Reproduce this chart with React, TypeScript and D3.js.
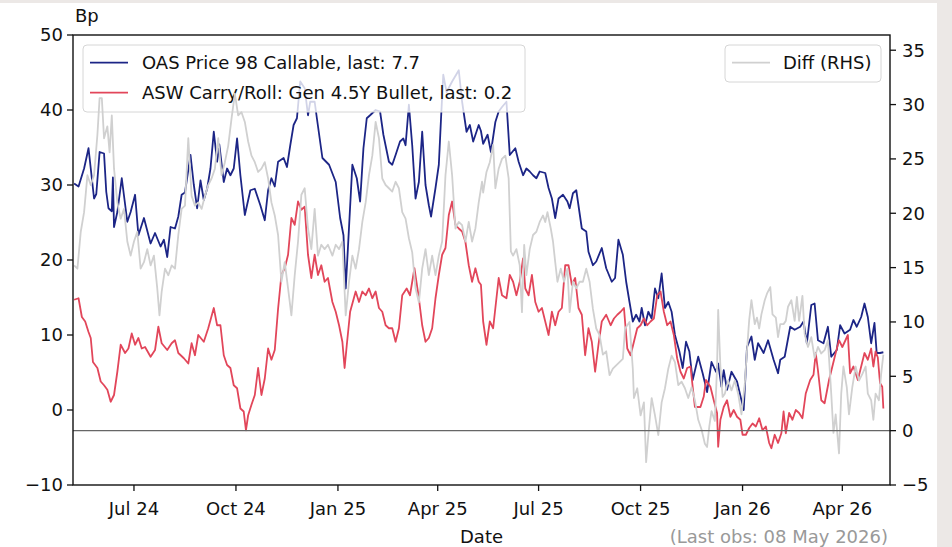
import React from "react";
import * as d3 from "d3";

// ---------- DATA ----------
const OAS_SERIES: [string, number][] = [
  ["2024-05-08",30.2],["2024-05-12",29.8],["2024-05-17",32.2],["2024-05-21",34.9],["2024-05-26",28.2],["2024-05-28",28.8],
  ["2024-05-31",34.4],["2024-06-04",34.2],["2024-06-06",29.1],["2024-06-08",26.9],["2024-06-11",26.5],["2024-06-12",31.0],
  ["2024-06-13",24.4],["2024-06-16",26.4],["2024-06-20",30.9],["2024-06-25",25.1],["2024-06-28",26.4],["2024-07-02",28.7],
  ["2024-07-05",23.3],["2024-07-10",25.6],["2024-07-16",22.2],["2024-07-20",23.6],["2024-07-25",21.8],["2024-07-28",22.7],
  ["2024-07-31",20.4],["2024-08-03",24.4],["2024-08-07",24.2],["2024-08-10",25.8],["2024-08-13",28.7],["2024-08-16",29.0],
  ["2024-08-21",34.0],["2024-08-24",30.0],["2024-08-27",26.9],["2024-08-30",30.6],["2024-09-02",28.0],["2024-09-05",29.5],
  ["2024-09-08",32.2],["2024-09-11",37.1],["2024-09-14",33.1],["2024-09-16",35.4],["2024-09-20",30.4],["2024-09-23",32.2],
  ["2024-09-26",31.3],["2024-09-29",32.2],["2024-10-02",36.2],["2024-10-05",31.3],["2024-10-09",26.0],["2024-10-14",29.3],
  ["2024-10-18",29.5],["2024-10-23",27.3],["2024-10-27",25.3],["2024-10-30",29.3],["2024-11-02",30.9],["2024-11-05",29.8],
  ["2024-11-08",33.1],["2024-11-13",33.6],["2024-11-16",32.4],["2024-11-19",35.3],["2024-11-22",38.0],["2024-11-25",38.9],
  ["2024-11-28",43.8],["2024-12-02",42.9],["2024-12-05",39.3],["2024-12-07",41.1],["2024-12-11",41.1],["2024-12-13",38.9],
  ["2024-12-18",33.6],["2024-12-24",32.7],["2024-12-30",30.4],["2025-01-03",25.6],["2025-01-06",23.3],["2025-01-08",16.2],
  ["2025-01-10",21.6],["2025-01-14",32.7],["2025-01-18",30.9],["2025-01-21",27.8],["2025-01-24",34.9],["2025-01-27",38.9],
  ["2025-01-30",39.3],["2025-02-04",40.0],["2025-02-08",39.8],["2025-02-11",36.7],["2025-02-16",33.1],["2025-02-19",32.7],
  ["2025-02-22",34.0],["2025-02-26",35.8],["2025-03-01",36.2],["2025-03-03",35.3],["2025-03-06",40.7],["2025-03-09",35.3],
  ["2025-03-12",28.2],["2025-03-15",30.4],["2025-03-18",37.1],["2025-03-21",30.0],["2025-03-24",27.3],["2025-03-26",25.8],
  ["2025-03-30",29.6],["2025-04-02",32.7],["2025-04-04",38.9],["2025-04-06",44.7],["2025-04-09",42.4],["2025-04-14",43.8],
  ["2025-04-20",45.3],["2025-04-23",41.1],["2025-04-27",37.1],["2025-04-30",38.0],["2025-05-03",35.8],["2025-05-08",38.0],
  ["2025-05-10",37.2],["2025-05-12",35.5],["2025-05-16",36.7],["2025-05-19",34.4],["2025-05-23",38.4],["2025-05-26",39.8],
  ["2025-05-29",40.4],["2025-06-02",41.1],["2025-06-05",34.0],["2025-06-10",34.9],["2025-06-13",33.1],["2025-06-17",31.3],
  ["2025-06-20",32.2],["2025-06-23",31.8],["2025-06-26",31.3],["2025-06-29",30.9],["2025-07-02",31.8],["2025-07-07",31.6],
  ["2025-07-10",29.6],["2025-07-13",28.2],["2025-07-16",25.6],["2025-07-19",28.2],["2025-07-23",28.7],["2025-07-27",27.8],
  ["2025-07-29",26.9],["2025-08-01",28.9],["2025-08-04",29.3],["2025-08-09",24.2],["2025-08-13",23.8],["2025-08-15",21.1],
  ["2025-08-19",19.3],["2025-08-22",19.8],["2025-08-27",21.6],["2025-08-31",18.9],["2025-09-05",17.1],["2025-09-08",17.6],
  ["2025-09-11",22.7],["2025-09-15",20.7],["2025-09-18",17.1],["2025-09-21",14.4],["2025-09-24",11.8],["2025-09-27",12.7],
  ["2025-09-30",11.8],["2025-10-02",13.6],["2025-10-05",11.3],["2025-10-08",13.1],["2025-10-11",12.2],["2025-10-14",16.2],
  ["2025-10-17",14.9],["2025-10-20",18.2],["2025-10-23",13.6],["2025-10-26",14.4],["2025-10-29",13.1],["2025-11-01",10.0],
  ["2025-11-05",7.8],["2025-11-08",5.6],["2025-11-11",9.1],["2025-11-14",7.8],["2025-11-17",4.0],["2025-11-22",7.1],
  ["2025-11-26",4.9],["2025-11-30",2.4],["2025-12-04",6.4],["2025-12-08",5.1],["2025-12-10",6.2],["2025-12-13",3.1],
  ["2025-12-15",5.3],["2025-12-18",2.7],["2025-12-22",5.1],["2025-12-27",3.8],["2025-12-31",1.3],["2026-01-02",0.0],
  ["2026-01-05",8.4],["2026-01-09",9.8],["2026-01-12",6.7],["2026-01-15",8.9],["2026-01-20",7.6],["2026-01-24",9.3],
  ["2026-01-29",6.7],["2026-02-02",4.9],["2026-02-04",6.7],["2026-02-08",7.1],["2026-02-13",11.1],["2026-02-17",10.7],
  ["2026-02-22",11.1],["2026-02-25",11.8],["2026-02-28",8.9],["2026-03-04",14.0],["2026-03-07",14.2],["2026-03-10",9.3],
  ["2026-03-15",8.9],["2026-03-19",11.1],["2026-03-22",7.1],["2026-03-27",8.0],["2026-03-30",11.3],["2026-04-03",10.2],
  ["2026-04-08",10.7],["2026-04-11",12.0],["2026-04-14",11.1],["2026-04-18",12.4],["2026-04-21",14.2],["2026-04-24",12.4],
  ["2026-04-27",8.9],["2026-04-30",11.6],["2026-05-02",7.6],["2026-05-05",7.6],["2026-05-08",7.7],
];

const ASW_SERIES: [string, number][] = [
  ["2024-05-08",14.7],["2024-05-12",14.9],["2024-05-15",12.4],["2024-05-18",11.8],["2024-05-21",10.4],["2024-05-23",9.6],
  ["2024-05-25",6.4],["2024-05-29",5.6],["2024-06-01",3.8],["2024-06-04",3.3],["2024-06-07",2.7],["2024-06-10",1.1],
  ["2024-06-13",2.0],["2024-06-16",5.1],["2024-06-19",8.7],["2024-06-23",7.6],["2024-06-26",8.2],["2024-06-29",10.2],
  ["2024-07-02",8.7],["2024-07-05",9.6],["2024-07-08",8.2],["2024-07-11",8.4],["2024-07-16",7.1],["2024-07-20",8.0],
  ["2024-07-23",11.1],["2024-07-26",8.9],["2024-07-31",8.0],["2024-08-04",8.9],["2024-08-07",9.3],["2024-08-10",7.6],
  ["2024-08-15",6.9],["2024-08-19",6.2],["2024-08-22",8.9],["2024-08-25",7.3],["2024-08-28",10.0],["2024-09-02",9.1],
  ["2024-09-06",10.9],["2024-09-11",13.6],["2024-09-14",11.3],["2024-09-17",11.3],["2024-09-20",7.3],["2024-09-23",6.0],
  ["2024-09-26",5.6],["2024-09-29",3.3],["2024-10-02",2.9],["2024-10-05",0.2],["2024-10-08",-0.2],["2024-10-10",-2.7],
  ["2024-10-12",-0.7],["2024-10-15",0.7],["2024-10-18",2.0],["2024-10-21",5.6],["2024-10-24",2.0],["2024-10-27",4.2],
  ["2024-10-30",8.2],["2024-11-02",6.7],["2024-11-05",8.0],["2024-11-08",13.5],["2024-11-11",18.0],["2024-11-14",18.9],
  ["2024-11-17",20.7],["2024-11-20",25.6],["2024-11-23",24.7],["2024-11-26",27.8],["2024-11-29",26.7],["2024-12-02",27.1],
  ["2024-12-05",20.7],["2024-12-08",17.6],["2024-12-11",20.7],["2024-12-14",18.0],["2024-12-17",19.3],["2024-12-20",17.1],
  ["2024-12-23",17.6],["2024-12-27",14.4],["2024-12-30",13.1],["2025-01-02",11.3],["2025-01-05",9.1],["2025-01-07",5.6],
  ["2025-01-09",8.7],["2025-01-12",13.1],["2025-01-17",15.8],["2025-01-20",14.4],["2025-01-23",15.8],["2025-01-26",15.3],
  ["2025-01-29",16.2],["2025-02-01",14.9],["2025-02-04",15.8],["2025-02-07",13.6],["2025-02-10",13.1],["2025-02-13",11.3],
  ["2025-02-16",10.9],["2025-02-19",10.9],["2025-02-22",9.1],["2025-02-25",10.9],["2025-02-28",15.3],["2025-03-04",16.2],
  ["2025-03-07",15.3],["2025-03-11",18.9],["2025-03-15",14.9],["2025-03-18",11.3],["2025-03-21",9.1],["2025-03-24",9.6],
  ["2025-03-27",10.9],["2025-03-30",14.9],["2025-04-02",18.0],["2025-04-05",20.7],["2025-04-08",21.6],["2025-04-11",26.0],
  ["2025-04-14",27.8],["2025-04-17",24.7],["2025-04-20",24.2],["2025-04-23",23.8],["2025-04-26",22.4],["2025-04-29",19.3],
  ["2025-05-02",17.1],["2025-05-05",18.9],["2025-05-08",17.1],["2025-05-10",16.7],["2025-05-12",11.8],["2025-05-15",8.7],
  ["2025-05-18",11.8],["2025-05-21",10.9],["2025-05-26",17.6],["2025-05-29",15.3],["2025-06-02",14.9],["2025-06-05",18.0],
  ["2025-06-08",17.1],["2025-06-11",15.3],["2025-06-14",17.1],["2025-06-17",20.2],["2025-06-19",16.2],["2025-06-22",15.3],
  ["2025-06-25",18.0],["2025-06-28",14.4],["2025-07-01",13.1],["2025-07-04",13.6],["2025-07-07",11.8],["2025-07-10",10.0],
  ["2025-07-13",13.1],["2025-07-16",11.3],["2025-07-19",13.1],["2025-07-22",13.6],["2025-07-25",19.3],["2025-07-28",19.3],
  ["2025-07-31",16.7],["2025-08-03",17.6],["2025-08-06",13.6],["2025-08-09",12.7],["2025-08-12",7.3],["2025-08-15",10.9],
  ["2025-08-18",9.1],["2025-08-21",5.1],["2025-08-24",8.7],["2025-08-27",11.8],["2025-08-31",12.7],["2025-09-04",11.3],
  ["2025-09-07",12.2],["2025-09-10",12.7],["2025-09-13",13.1],["2025-09-16",13.6],["2025-09-19",8.2],["2025-09-22",7.3],
  ["2025-09-25",9.1],["2025-09-28",10.9],["2025-10-01",11.3],["2025-10-04",12.2],["2025-10-07",11.3],["2025-10-10",11.8],
  ["2025-10-13",12.2],["2025-10-16",15.3],["2025-10-19",15.8],["2025-10-22",13.1],["2025-10-25",11.3],["2025-10-28",11.8],
  ["2025-10-31",10.0],["2025-11-03",6.9],["2025-11-06",5.1],["2025-11-09",4.2],["2025-11-12",5.6],["2025-11-15",5.8],
  ["2025-11-19",0.4],["2025-11-24",0.4],["2025-11-27",1.8],["2025-11-29",4.0],["2025-12-03",3.1],["2025-12-06",1.3],
  ["2025-12-09",-0.4],["2025-12-10",-4.9],["2025-12-12",-1.3],["2025-12-15",0.4],["2025-12-18",1.3],["2025-12-21",-0.9],
  ["2025-12-24",0.0],["2025-12-27",-0.9],["2025-12-30",-1.3],["2026-01-01",-3.3],["2026-01-04",-3.3],["2026-01-07",-2.4],
  ["2026-01-10",-1.8],["2026-01-13",-2.2],["2026-01-16",-1.1],["2026-01-19",-2.7],["2026-01-22",-2.2],["2026-01-25",-4.4],
  ["2026-01-27",-5.1],["2026-01-30",-3.3],["2026-02-02",-4.4],["2026-02-05",-3.1],["2026-02-07",-0.2],["2026-02-09",-3.1],
  ["2026-02-12",-0.4],["2026-02-15",-1.3],["2026-02-18",0.0],["2026-02-21",-0.4],["2026-02-24",-1.1],["2026-02-27",2.2],
  ["2026-03-03",4.0],["2026-03-06",4.7],["2026-03-08",7.6],["2026-03-10",5.3],["2026-03-13",1.3],["2026-03-16",0.9],
  ["2026-03-20",4.0],["2026-03-23",5.8],["2026-03-26",7.6],["2026-03-29",9.3],["2026-04-01",8.4],["2026-04-06",10.0],
  ["2026-04-08",4.9],["2026-04-11",5.8],["2026-04-15",4.0],["2026-04-18",5.8],["2026-04-21",7.6],["2026-04-24",6.7],
  ["2026-04-27",8.2],["2026-04-29",5.8],["2026-05-01",7.8],["2026-05-03",7.0],["2026-05-05",3.6],["2026-05-07",3.1],
  ["2026-05-08",0.2],
];

const DIFF_SERIES: [string, number][] = [
  ["2024-05-08",15.2],["2024-05-11",14.9],["2024-05-14",18.3],["2024-05-17",20.1],["2024-05-20",23.5],["2024-05-23",22.6],
  ["2024-05-26",23.5],["2024-05-29",27.2],["2024-05-31",30.6],["2024-06-02",30.6],["2024-06-04",26.9],["2024-06-07",28.0],
  ["2024-06-09",25.6],["2024-06-11",29.0],["2024-06-13",24.1],["2024-06-16",21.0],["2024-06-19",19.5],["2024-06-22",20.4],
  ["2024-06-25",17.4],["2024-06-28",16.1],["2024-07-01",17.4],["2024-07-04",18.3],["2024-07-07",14.9],["2024-07-10",15.5],
  ["2024-07-13",16.7],["2024-07-16",15.2],["2024-07-19",16.1],["2024-07-22",13.1],["2024-07-24",10.6],["2024-07-26",12.8],
  ["2024-07-29",14.9],["2024-08-01",14.3],["2024-08-04",15.2],["2024-08-07",14.9],["2024-08-10",18.0],["2024-08-13",20.4],
  ["2024-08-16",20.7],["2024-08-19",26.9],["2024-08-22",21.6],["2024-08-25",20.7],["2024-08-28",21.0],["2024-08-31",20.4],
  ["2024-09-03",21.6],["2024-09-06",22.6],["2024-09-09",23.2],["2024-09-12",24.1],["2024-09-15",26.9],["2024-09-18",23.5],
  ["2024-09-21",24.7],["2024-09-24",26.2],["2024-09-27",28.7],["2024-09-30",31.0],["2024-10-03",29.0],["2024-10-06",29.3],
  ["2024-10-09",28.4],["2024-10-12",26.6],["2024-10-15",25.3],["2024-10-18",24.7],["2024-10-21",23.8],["2024-10-24",24.1],
  ["2024-10-27",24.7],["2024-10-30",23.2],["2024-11-02",21.0],["2024-11-05",19.8],["2024-11-08",18.0],["2024-11-11",13.7],
  ["2024-11-14",15.5],["2024-11-17",13.1],["2024-11-20",10.6],["2024-11-23",14.3],["2024-11-26",17.4],["2024-11-29",21.7],
  ["2024-12-02",22.3],["2024-12-05",18.6],["2024-12-08",16.7],["2024-12-11",20.4],["2024-12-14",16.1],["2024-12-17",17.1],
  ["2024-12-20",16.7],["2024-12-23",17.1],["2024-12-27",16.1],["2024-12-30",17.1],["2025-01-02",16.7],["2025-01-05",17.4],
  ["2025-01-08",10.6],["2025-01-11",13.7],["2025-01-14",16.1],["2025-01-17",14.9],["2025-01-20",16.7],["2025-01-23",19.2],
  ["2025-01-26",21.0],["2025-01-29",23.5],["2025-02-01",25.3],["2025-02-04",28.4],["2025-02-07",26.9],["2025-02-10",23.2],
  ["2025-02-13",22.6],["2025-02-16",22.3],["2025-02-19",22.0],["2025-02-22",22.9],["2025-02-25",22.3],["2025-02-28",20.1],
  ["2025-03-03",19.5],["2025-03-06",17.7],["2025-03-09",16.4],["2025-03-12",13.1],["2025-03-15",11.8],["2025-03-18",14.9],
  ["2025-03-21",16.7],["2025-03-24",14.3],["2025-03-27",16.1],["2025-03-30",14.3],["2025-04-02",16.1],["2025-04-05",17.4],
  ["2025-04-08",23.5],["2025-04-11",26.6],["2025-04-14",23.5],["2025-04-17",18.6],["2025-04-20",19.2],["2025-04-23",18.9],
  ["2025-04-26",17.4],["2025-04-29",19.2],["2025-05-02",17.4],["2025-05-05",18.6],["2025-05-08",21.0],["2025-05-11",22.9],
  ["2025-05-12",21.9],["2025-05-15",23.8],["2025-05-18",24.7],["2025-05-21",26.3],["2025-05-23",22.3],["2025-05-26",24.1],
  ["2025-05-29",25.0],["2025-06-01",25.3],["2025-06-04",23.2],["2025-06-06",16.5],["2025-06-08",16.1],["2025-06-11",16.7],
  ["2025-06-14",15.2],["2025-06-16",10.9],["2025-06-18",17.1],["2025-06-20",14.3],["2025-06-23",16.7],["2025-06-26",18.0],
  ["2025-06-29",18.3],["2025-07-02",19.2],["2025-07-05",19.8],["2025-07-07",19.2],["2025-07-09",20.1],["2025-07-12",18.6],
  ["2025-07-14",17.4],["2025-07-16",15.5],["2025-07-18",13.7],["2025-07-21",14.9],["2025-07-24",13.7],["2025-07-27",14.9],
  ["2025-07-29",10.9],["2025-08-01",13.7],["2025-08-04",13.1],["2025-08-07",13.7],["2025-08-10",13.7],["2025-08-13",14.9],
  ["2025-08-16",13.7],["2025-08-19",11.2],["2025-08-22",9.4],["2025-08-25",8.8],["2025-08-28",7.0],["2025-08-31",7.3],
  ["2025-09-03",5.1],["2025-09-06",5.7],["2025-09-09",6.0],["2025-09-12",6.3],["2025-09-15",6.6],["2025-09-17",9.4],
  ["2025-09-21",10.0],["2025-09-24",5.7],["2025-09-25",3.0],["2025-09-28",3.9],["2025-10-01",1.4],["2025-10-04",2.6],
  ["2025-10-06",-2.9],["2025-10-08",-0.4],["2025-10-11",3.0],["2025-10-14",1.4],["2025-10-17",-0.4],["2025-10-20",2.6],
  ["2025-10-23",3.9],["2025-10-26",5.7],["2025-10-29",6.9],["2025-11-01",6.3],["2025-11-04",4.2],["2025-11-07",4.5],
  ["2025-11-10",3.9],["2025-11-13",3.0],["2025-11-16",4.0],["2025-11-19",2.8],["2025-11-22",1.0],["2025-11-25",0.1],
  ["2025-11-28",-1.2],["2025-11-30",-1.5],["2025-12-02",0.4],["2025-12-04",1.8],["2025-12-07",0.9],["2025-12-09",5.9],
  ["2025-12-10",11.1],["2025-12-12",5.9],["2025-12-14",3.1],["2025-12-16",3.4],["2025-12-19",4.6],["2025-12-22",3.7],
  ["2025-12-25",4.6],["2025-12-28",3.4],["2025-12-31",1.5],["2026-01-03",4.3],["2026-01-05",7.4],["2026-01-07",10.2],
  ["2026-01-09",12.0],["2026-01-12",9.8],["2026-01-14",10.4],["2026-01-16",9.4],["2026-01-18",10.7],["2026-01-21",12.0],
  ["2026-01-23",12.6],["2026-01-26",13.2],["2026-01-28",10.7],["2026-01-31",10.4],["2026-02-02",8.6],["2026-02-04",9.8],
  ["2026-02-07",9.8],["2026-02-09",10.1],["2026-02-11",11.4],["2026-02-14",12.0],["2026-02-17",10.1],["2026-02-19",12.3],
  ["2026-02-21",10.1],["2026-02-24",12.4],["2026-02-26",8.9],["2026-03-01",7.7],["2026-03-04",8.6],["2026-03-07",6.7],
  ["2026-03-10",7.7],["2026-03-13",7.1],["2026-03-16",7.4],["2026-03-19",8.3],["2026-03-22",3.4],["2026-03-24",-0.2],
  ["2026-03-26",1.5],["2026-03-29",-2.1],["2026-03-31",3.4],["2026-04-02",5.9],["2026-04-05",4.0],["2026-04-07",1.5],
  ["2026-04-10",4.0],["2026-04-13",5.9],["2026-04-16",4.6],["2026-04-19",5.2],["2026-04-22",5.9],["2026-04-24",3.4],
  ["2026-04-27",2.8],["2026-04-29",1.0],["2026-05-01",3.4],["2026-05-04",2.8],["2026-05-06",5.2],["2026-05-08",7.0],
];

const LEFT_TICKS = [-10, 0, 10, 20, 30, 40, 50];
const RIGHT_TICKS = [-5, 0, 5, 10, 15, 20, 25, 30, 35];
const X_TICKS = ["2024-07-01", "2024-10-01", "2025-01-01", "2025-04-01", "2025-07-01", "2025-10-01", "2026-01-01", "2026-04-01"];
const X_DOMAIN = ["2024-05-07", "2026-05-14"];
const LEFT_DOMAIN = [-10, 50];
const RIGHT_DOMAIN = [-5, 36.4];
const LABEL_OAS = "OAS Price 98 Callable, last: 7.7";
const LABEL_ASW = "ASW Carry/Roll: Gen 4.5Y Bullet, last: 0.2";
const LABEL_DIFF = "Diff (RHS)";
const FOOTNOTE = "(Last obs: 08 May 2026)";

// ---------- CHART ----------
const W = 952, H = 547;
const M = { left: 73, right: 890, top: 35, bottom: 485 };
const FONT = "'DejaVu Sans', sans-serif";
const BLUE = "#1c2586";
const RED = "#e2465a";
const GRAY = "#d0d0d0";
const LW = 1.8;

const parse = d3.timeParse("%Y-%m-%d");
const fmtTick = d3.timeFormat("%b %y");
const fmtNum = (v: number) => (v < 0 ? "\u2212" + Math.abs(v) : String(v));

export default function App() {
  const x = d3.scaleTime().domain(X_DOMAIN.map((s) => parse(s) as Date)).range([M.left, M.right]);
  const yL = d3.scaleLinear().domain(LEFT_DOMAIN).range([M.bottom, M.top]);
  const yR = d3.scaleLinear().domain(RIGHT_DOMAIN).range([M.bottom, M.top]);

  const lineL = d3.line<[string, number]>().x((d) => x(parse(d[0]) as Date)).y((d) => yL(d[1]));
  const lineR = d3.line<[string, number]>().x((d) => x(parse(d[0]) as Date)).y((d) => yR(d[1]));

  const fs = 18;
  return (
    <svg width={W} height={H} style={{ position: "fixed", left: 0, top: 0, display: "block" }} fontFamily={FONT}>
      <rect x={0} y={0} width={W} height={H} fill="#ece8e6" />
      <rect x={0} y={3} width={937} height={H - 3} fill="#ffffff" />
      <defs>
        <clipPath id="plot">
          <rect x={M.left} y={M.top} width={M.right - M.left} height={M.bottom - M.top} />
        </clipPath>
      </defs>

      <g clipPath="url(#plot)">
        <path d={lineL(OAS_SERIES) || ""} fill="none" stroke={BLUE} strokeWidth={LW} strokeLinejoin="round" />
        <path d={lineL(ASW_SERIES) || ""} fill="none" stroke={RED} strokeWidth={LW} strokeLinejoin="round" />
      </g>

      {/* left legend */}
      <g>
        <rect x={83} y={45} width={442} height={67} rx={4} fill="#ffffff" fillOpacity={0.8} stroke="#d6d6d6" strokeWidth={1} />
        <line x1={90} x2={128} y1={62.7} y2={62.7} stroke={BLUE} strokeWidth={LW} />
        <line x1={90} x2={128} y1={92.7} y2={92.7} stroke={RED} strokeWidth={LW} />
        <text x={142} y={62.7} dy="0.36em" fontSize={fs} fill="#111">{LABEL_OAS}</text>
        <text x={142} y={92.7} dy="0.36em" fontSize={fs} fill="#111">{LABEL_ASW}</text>
      </g>

      <g clipPath="url(#plot)">
        <path d={lineR(DIFF_SERIES) || ""} fill="none" stroke={GRAY} strokeWidth={LW} strokeLinejoin="round" />
        <line x1={M.left} x2={M.right} y1={yR(0)} y2={yR(0)} stroke="#666" strokeWidth={1.4} />
      </g>

      {/* right legend */}
      <g>
        <rect x={725} y={45} width={156} height={37} rx={4} fill="#ffffff" fillOpacity={0.8} stroke="#d6d6d6" strokeWidth={1} />
        <line x1={732} x2={770} y1={62.7} y2={62.7} stroke={GRAY} strokeWidth={LW} />
        <text x={783} y={62.7} dy="0.36em" fontSize={fs} fill="#111">{LABEL_DIFF}</text>
      </g>

      {/* frame */}
      <rect x={M.left} y={M.top} width={M.right - M.left} height={M.bottom - M.top} fill="none" stroke="#111" strokeWidth={1.4} />

      {/* left axis */}
      {LEFT_TICKS.map((t) => (
        <g key={"l" + t}>
          <line x1={M.left - 6} x2={M.left} y1={yL(t)} y2={yL(t)} stroke="#111" strokeWidth={1.3} />
          <text x={M.left - 10} y={yL(t)} dy="0.36em" textAnchor="end" fontSize={fs} fill="#111">{fmtNum(t)}</text>
        </g>
      ))}
      {/* right axis */}
      {RIGHT_TICKS.map((t) => (
        <g key={"r" + t}>
          <line x1={M.right} x2={M.right + 6} y1={yR(t)} y2={yR(t)} stroke="#111" strokeWidth={1.3} />
          <text x={M.right + 12} y={yR(t)} dy="0.36em" textAnchor="start" fontSize={fs} fill="#111">{fmtNum(t)}</text>
        </g>
      ))}
      {/* x axis */}
      {X_TICKS.map((s) => {
        const d = parse(s) as Date;
        return (
          <g key={s}>
            <line x1={x(d)} x2={x(d)} y1={M.bottom} y2={M.bottom + 6} stroke="#111" strokeWidth={1.3} />
            <text x={x(d)} y={515} textAnchor="middle" fontSize={fs} fill="#111">{fmtTick(d)}</text>
          </g>
        );
      })}

      <text x={75} y={22} fontSize={fs} fill="#111">Bp</text>
      <text x={(M.left + M.right) / 2} y={543} textAnchor="middle" fontSize={fs} fill="#111">Date</text>
      <text x={888} y={543} textAnchor="end" fontSize={fs} fill="#999">{FOOTNOTE}</text>
    </svg>
  );
}
